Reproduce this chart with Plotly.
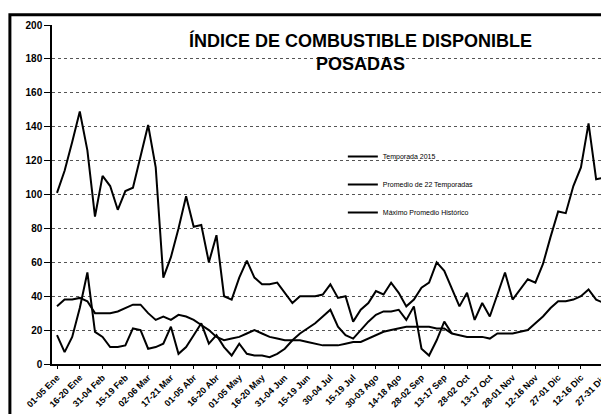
import plotly.graph_objects as go

# Pentad index (01-05 Ene = 0 ... 27-31 Dic = 72)
tick_labels = ["01-05 Ene", "16-20 Ene", "31-04 Feb", "15-19 Feb", "02-06 Mar",
               "17-21 Mar", "01-05 Abr", "16-20 Abr", "01-05 May", "16-20 May",
               "31-04 Jun", "15-19 Jun", "30-04 Jul", "15-19 Jul", "30-03 Ago",
               "14-18 Ago", "28-02 Sep", "13-17 Sep", "28-02 Oct", "13-17 Oct",
               "28-01 Nov", "12-16 Nov", "27-01 Dic", "12-16 Dic", "27-31 Dic"]
tick_pos = [0, 3, 6, 9, 12, 15, 18, 21, 24, 27, 30, 33, 36, 39, 42, 45, 48, 51,
            54, 57, 60, 63, 66, 69, 72]
pentads = list(range(73))

temporada_2015 = [17, 7, 16, 33, 54, 19, 16, 10, 10, 11, 21, 20, 9, 10, 12, 22,
                  6, 10, 17, 24, 12, 17, 10, 5, 12, 6, 5, 5, 4, 6, 9, 14,
                  18, 21, 24, 28, 32, 22, 17, 15, 20, 25, 29, 31, 31, 32, 26,
                  34, 9, 5, 14, 25, 18]

promedio = [34, 38, 38, 39, 37, 30, 30, 30, 31, 33, 35, 35, 30, 26, 28, 26, 29,
            28, 26, 23, 20, 16, 14, 15, 16, 18, 20, 18, 16, 15, 14, 14, 14, 13,
            12, 11, 11, 11, 12, 13, 13, 15, 17, 19, 20, 21, 22, 22, 22, 22, 21,
            21, 18, 17, 16, 16, 16, 15, 18, 18, 18, 19, 20, 24, 28, 33, 37, 37,
            38, 40, 44, 38, 36]

maximo = [101, 114, 131, 149, 126, 87, 111, 105, 91, 102, 104, 122, 141, 116,
          51, 63, 80, 99, 81, 82, 60, 76, 40, 38, 51, 61, 51, 47, 47, 48, 42,
          36, 40, 40, 40, 41, 47, 39, 40, 25, 32, 36, 43, 41, 48, 42, 34, 38,
          45, 48, 60, 55, 45, 34, 42, 26, 36, 28, 41, 54, 38, 44, 50, 48, 59,
          75, 90, 89, 105, 116, 142, 109, 110]

y_ticks = [0, 20, 40, 60, 80, 100, 120, 140, 160, 180, 200]

fig = go.Figure()
series = [("Temporada 2015", pentads[:len(temporada_2015)], temporada_2015),
          ("Promedio de 22 Temporadas", pentads, promedio),
          ("Máximo Promedio Histórico", pentads, maximo)]
for name, xs, ys in series:
    fig.add_trace(go.Scatter(x=xs, y=ys, mode="lines", name=name,
                             legendgroup=name,
                             line=dict(color="black", width=2)))

# the page adds an 8px body margin, so the figure is sized to fit inside it
fig.update_layout(
    width=601, height=406,
    margin=dict(l=44, r=3, t=17, b=50),
    paper_bgcolor="white", plot_bgcolor="white",
    font=dict(family="Arial, Liberation Sans, sans-serif", color="black"),
    showlegend=True,
    legend=dict(x=0.525, y=0.655, xanchor="left", yanchor="top",
                font=dict(size=7, color="black"), tracegroupgap=9,
                bgcolor="rgba(0,0,0,0)", itemwidth=30),
    annotations=[dict(text="<b>ÍNDICE DE COMBUSTIBLE DISPONIBLE</b><br><b>POSADAS</b>",
                      xref="paper", yref="paper", x=0.557, y=0.99,
                      xanchor="center", yanchor="top", showarrow=False,
                      font=dict(size=18, color="black"))],
    shapes=[dict(type="rect", xref="paper", yref="paper",
                 x0=-0.076, x1=1.004, y0=-0.2, y1=1.03,
                 line=dict(color="black", width=3))],
)
fig.update_xaxes(range=[-0.66, 72.3], tickvals=tick_pos, ticktext=tick_labels,
                 tickangle=-45, automargin=False,
                 tickfont=dict(size=9, family="Arial", weight="bold"),
                 showgrid=False, showline=True, linecolor="black", linewidth=1.5,
                 ticks="outside", ticklen=3, tickcolor="black", mirror=False,
                 zeroline=False)
fig.update_yaxes(range=[0, 200], tickvals=y_ticks, automargin=False,
                 tickfont=dict(size=10, family="Arial", weight="bold"),
                 showgrid=True, gridcolor="#555", griddash="dot", gridwidth=1,
                 showline=True, linecolor="black", linewidth=1.5,
                 ticks="outside", ticklen=6, tickcolor="black", zeroline=False)
fig.write_html("out.html")
